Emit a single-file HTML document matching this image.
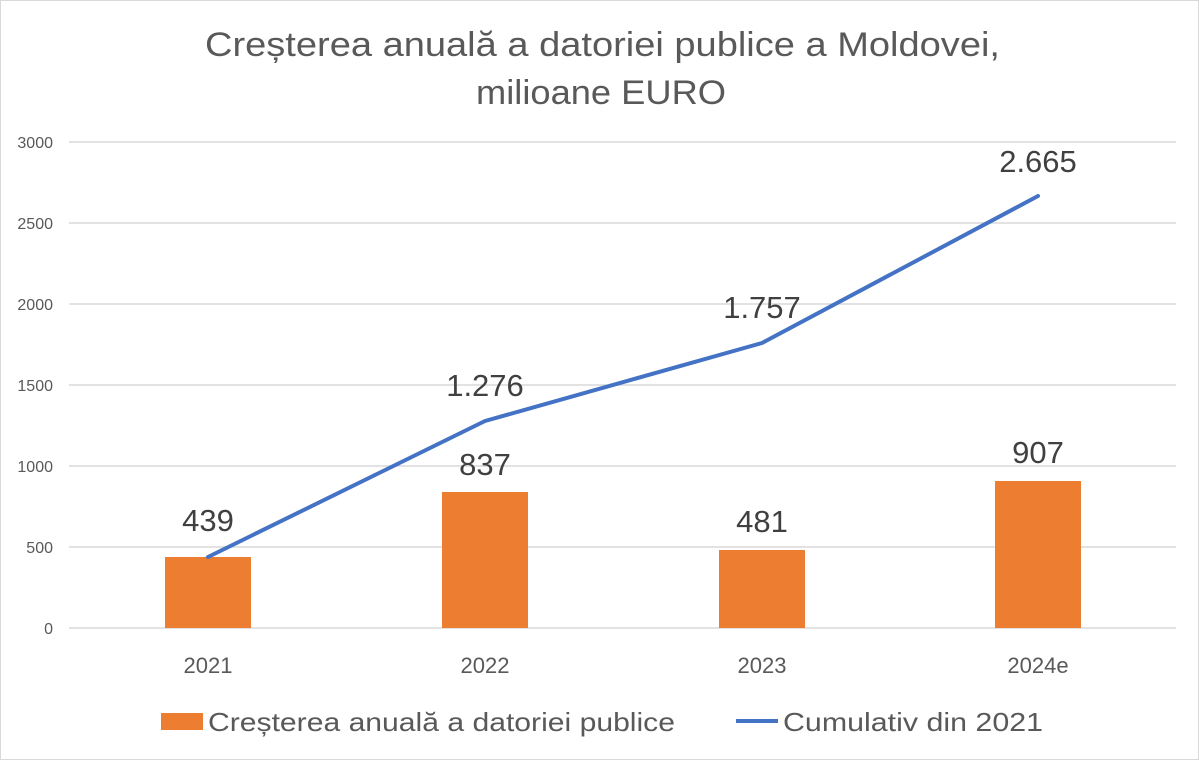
<!DOCTYPE html>
<html><head><meta charset="utf-8"><style>
html,body{margin:0;padding:0;background:#fff;}
svg{display:block;font-family:"Liberation Sans","DejaVu Sans",sans-serif;}
</style></head><body>
<svg width="1199" height="760" viewBox="0 0 1199 760" xmlns="http://www.w3.org/2000/svg">
<rect x="0.5" y="0.5" width="1198" height="759" fill="#fff" stroke="#d9d9d9"/>
<text x="205" y="56" font-size="34" fill="#595959" textLength="795" lengthAdjust="spacingAndGlyphs">Creșterea anuală a datoriei publice a Moldovei,</text>
<text x="476" y="104" font-size="34" fill="#595959" textLength="250" lengthAdjust="spacingAndGlyphs">milioane EURO</text>
<g stroke="#d9d9d9" stroke-width="1.5">
<line x1="69" x2="1176" y1="142" y2="142"/>
<line x1="69" x2="1176" y1="223" y2="223"/>
<line x1="69" x2="1176" y1="304" y2="304"/>
<line x1="69" x2="1176" y1="385" y2="385"/>
<line x1="69" x2="1176" y1="466" y2="466"/>
<line x1="69" x2="1176" y1="547" y2="547"/>
<line x1="69" x2="1176" y1="628" y2="628"/>
</g>
<g font-size="16" fill="#595959" text-anchor="end">
<text x="53" y="148">3000</text>
<text x="53" y="229">2500</text>
<text x="53" y="310">2000</text>
<text x="53" y="391">1500</text>
<text x="53" y="472">1000</text>
<text x="53" y="553">500</text>
<text x="53" y="634">0</text>
</g>
<g fill="#ed7d31">
<rect x="165" y="557" width="86" height="71"/>
<rect x="442" y="492" width="86" height="136"/>
<rect x="719" y="550" width="86" height="78"/>
<rect x="995" y="481" width="86" height="147"/>
</g>
<polyline points="208,557 485,421 762,343 1038,196" fill="none" stroke="#4472c4" stroke-width="4" stroke-linejoin="round" stroke-linecap="round"/>
<g font-size="31" fill="#404040" text-anchor="middle">
<text x="208" y="531">439</text>
<text x="485" y="475">837</text>
<text x="762" y="532">481</text>
<text x="1038" y="463">907</text>
<text x="485" y="396">1.276</text>
<text x="762" y="318">1.757</text>
<text x="1038" y="172">2.665</text>
</g>
<g font-size="22" fill="#595959" text-anchor="middle">
<text x="208" y="673">2021</text>
<text x="485" y="673">2022</text>
<text x="762" y="673">2023</text>
<text x="1038" y="673">2024e</text>
</g>
<rect x="161" y="713" width="42" height="17" fill="#ed7d31"/>
<text x="208" y="731" font-size="26" fill="#595959" textLength="467" lengthAdjust="spacingAndGlyphs">Creșterea anuală a datoriei publice</text>
<line x1="736" x2="778" y1="721" y2="721" stroke="#4472c4" stroke-width="4"/>
<text x="783" y="731" font-size="26" fill="#595959" textLength="260" lengthAdjust="spacingAndGlyphs">Cumulativ din 2021</text>
</svg>
</body></html>
